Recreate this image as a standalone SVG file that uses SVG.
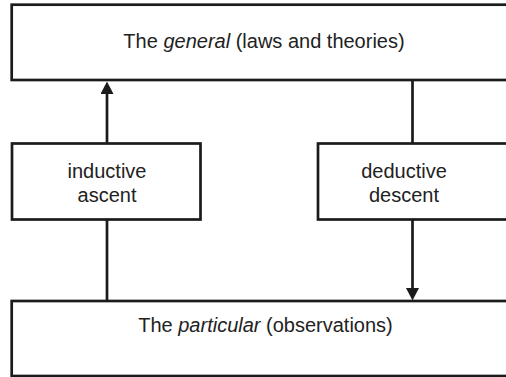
<svg xmlns="http://www.w3.org/2000/svg" width="506" height="377" viewBox="0 0 506 377">
  <style>
    .box { fill: #ffffff; stroke: #1b1b1b; stroke-width: 2.7; }
    .link { fill: none; stroke: #1b1b1b; stroke-width: 2.7; }
    .label { font-family: "Liberation Sans", Arial, sans-serif; font-size: 20px; fill: #222222; text-anchor: middle; }
  </style>
  <defs>
    <marker id="arrow" viewBox="0 0 12.5 13" refX="6" refY="6.5" markerWidth="12.5" markerHeight="13" markerUnits="userSpaceOnUse" orient="auto">
      <path d="M0,0 L12.5,6.5 L0,13 z" fill="#1b1b1b"/>
    </marker>
  </defs>
  <rect width="506" height="377" fill="#ffffff"/>

  <!-- connectors -->
  <g id="connectors">
    <line class="link" x1="107" y1="143.5" x2="107" y2="88" marker-end="url(#arrow)"/>
    <line class="link" x1="107" y1="219.5" x2="107" y2="301"/>
    <line class="link" x1="412.5" y1="80" x2="412.5" y2="143.5"/>
    <line class="link" x1="412.5" y1="219.5" x2="412.5" y2="294" marker-end="url(#arrow)"/>
  </g>

  <!-- the general -->
  <g id="general">
    <rect class="box" x="11.7" y="4.7" width="520" height="75.3"/>
    <text class="label" x="264" y="47.5">The <tspan font-style="italic">general</tspan> (laws and theories)</text>
  </g>

  <!-- inductive ascent -->
  <g id="inductive">
    <rect class="box" x="12" y="143.5" width="188.5" height="76"/>
    <text class="label" x="107" y="177.7">inductive</text>
    <text class="label" x="107" y="201.5">ascent</text>
  </g>

  <!-- deductive descent -->
  <g id="deductive">
    <rect class="box" x="318" y="143.5" width="200" height="76"/>
    <text class="label" x="404" y="177.7">deductive</text>
    <text class="label" x="404" y="201.5">descent</text>
  </g>

  <!-- the particular -->
  <g id="particular">
    <rect class="box" x="11.7" y="301" width="520" height="75"/>
    <text class="label" x="265.5" y="331.5">The <tspan font-style="italic">particular</tspan> (observations)</text>
  </g>
</svg>
